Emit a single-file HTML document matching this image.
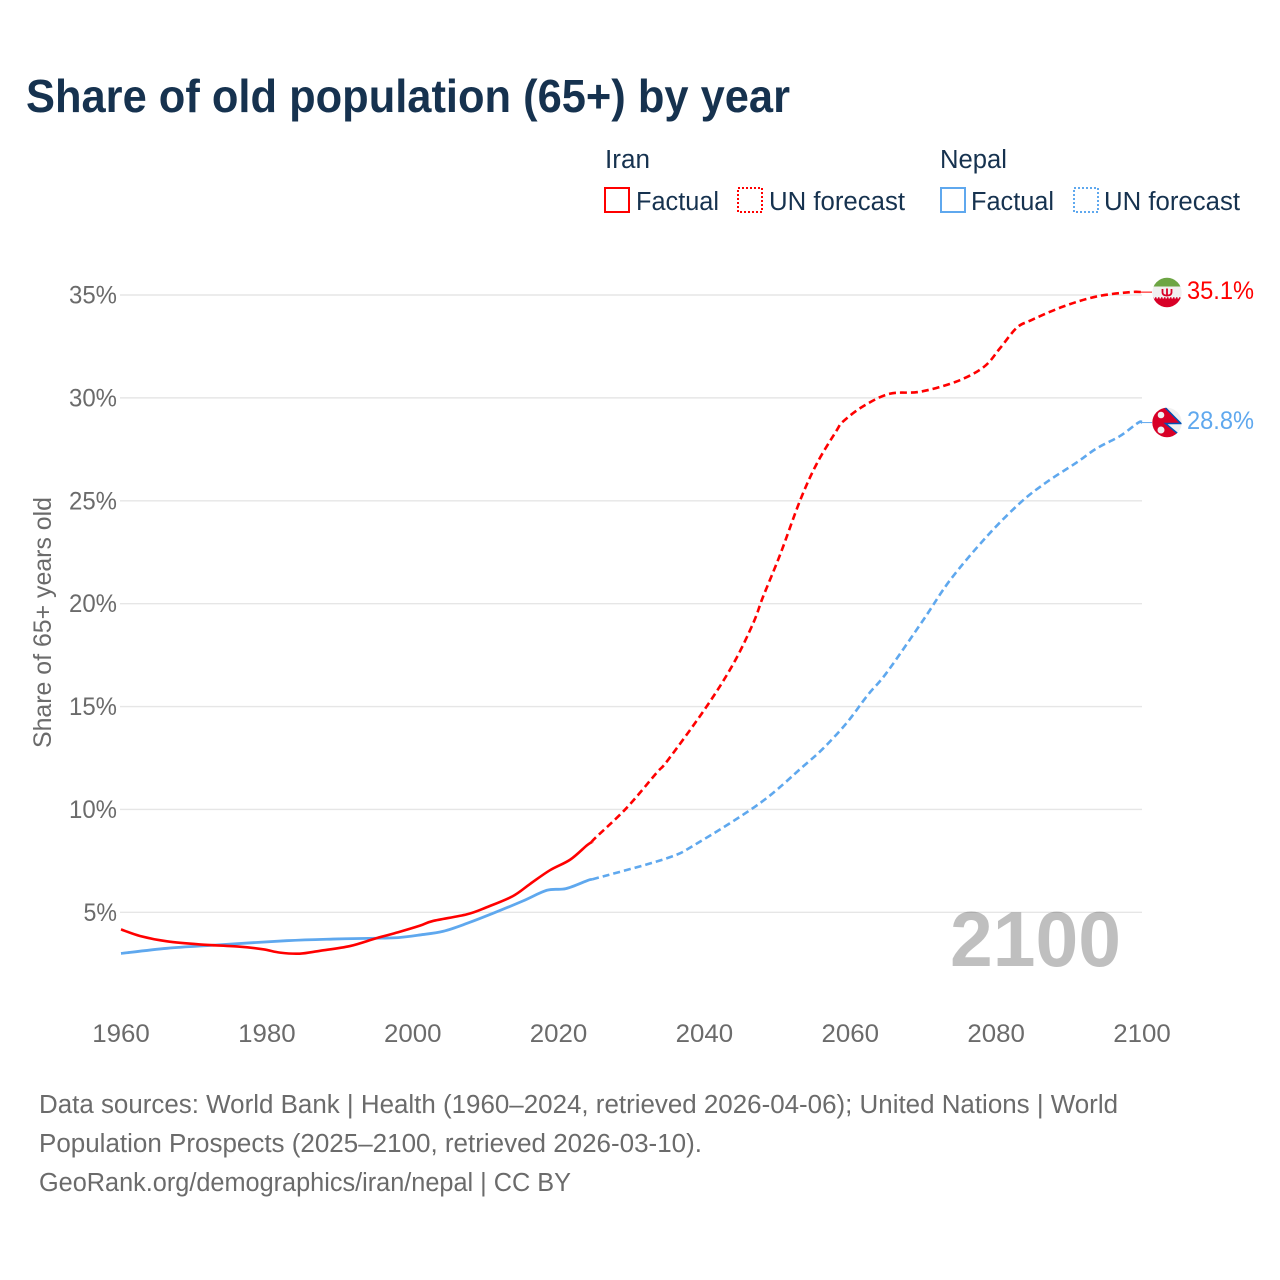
<!DOCTYPE html>
<html lang="en">
<head>
<meta charset="utf-8">
<title>Share of old population (65+) by year</title>
<style>
html,body{margin:0;padding:0;background:#fff;}
svg{display:block;font-family:"Liberation Sans",sans-serif;}
</style>
</head>
<body>
<svg id="chart" xmlns="http://www.w3.org/2000/svg" width="1280" height="1280" viewBox="0 0 1280 1280">
  <rect x="0" y="0" width="1280" height="1280" fill="#ffffff"/>
  <text x="26" y="112" font-size="46" font-weight="700" fill="#16324f" textLength="764" lengthAdjust="spacingAndGlyphs">Share of old population (65+) by year</text>

  <g font-size="25.5" fill="#16324f">
    <text x="605" y="168" textLength="45" lengthAdjust="spacingAndGlyphs">Iran</text>
    <rect x="605" y="188" width="24" height="24" fill="none" stroke="#ff0000" stroke-width="2"/>
    <text x="636" y="210" textLength="83" lengthAdjust="spacingAndGlyphs">Factual</text>
    <rect x="738" y="188" width="24" height="24" fill="none" stroke="#ff0000" stroke-width="2" stroke-dasharray="2 2"/>
    <text x="769" y="210" textLength="136" lengthAdjust="spacingAndGlyphs">UN forecast</text>
    <text x="940" y="168" textLength="67" lengthAdjust="spacingAndGlyphs">Nepal</text>
    <rect x="941" y="188" width="24" height="24" fill="none" stroke="#5fa8ee" stroke-width="2"/>
    <text x="971" y="210" textLength="83" lengthAdjust="spacingAndGlyphs">Factual</text>
    <rect x="1074" y="188" width="24" height="24" fill="none" stroke="#5fa8ee" stroke-width="2" stroke-dasharray="2 2"/>
    <text x="1104" y="210" textLength="136" lengthAdjust="spacingAndGlyphs">UN forecast</text>
  </g>

  <text transform="translate(51,748) rotate(-90)" font-size="25" fill="#6b6b6b" textLength="251" lengthAdjust="spacingAndGlyphs">Share of 65+ years old</text>

  <g id="grid"></g>
  <g id="yticks" font-size="25" fill="#6b6b6b"></g>
  <g id="xticks" font-size="25" fill="#6b6b6b"></g>

  <text x="950" y="966" font-size="78" font-weight="700" fill="#000000" fill-opacity="0.25" textLength="171" lengthAdjust="spacingAndGlyphs">2100</text>

  <g id="series"></g>

  <defs>
    <clipPath id="iran-clip"><circle cx="1167" cy="292.5" r="14.7"/></clipPath>
    <clipPath id="nepal-clip"><circle cx="1167" cy="422.5" r="14.7"/></clipPath>
  </defs>
  <g clip-path="url(#iran-clip)">
    <rect x="1152" y="277" width="30" height="31" fill="#f0f0f0"/>
    <rect x="1152" y="277" width="30" height="9.500" fill="#6da544"/>
    <rect x="1152" y="298.500" width="30" height="10" fill="#d80027"/>
    <line x1="1152" x2="1182" y1="298" y2="298" stroke="#d80027" stroke-width="1.500" stroke-dasharray="1.500 1.500"/>
    <path d="M1162.500 289v3.500q0 3 4.500 3t4.500-3V289M1167 288.500v8" fill="none" stroke="#d80027" stroke-width="1.800"/>
  </g>
  <g clip-path="url(#nepal-clip)">
    <rect x="1152" y="407" width="30" height="31" fill="#f0f0f0"/>
    <path d="M1150 405H1164L1181 423.500H1165.500L1180 436V440H1150Z" fill="#d80027"/>
    <path d="M1164 406.500L1181 423.500H1165.500L1180 435.500" fill="none" stroke="#0052b4" stroke-width="1.500"/>
    <circle cx="1161" cy="415" r="3.300" fill="#f0f0f0"/>
    <circle cx="1161" cy="430" r="3.500" fill="#f0f0f0"/>
  </g>
  <text x="1187" y="299" font-size="25" fill="#ff0000" textLength="67" lengthAdjust="spacingAndGlyphs">35.1%</text>
  <text x="1187" y="429" font-size="25" fill="#5fa8ee" textLength="67" lengthAdjust="spacingAndGlyphs">28.8%</text>

  <g font-size="25.5" fill="#6b6b6b">
    <text x="39" y="1113" textLength="1079" lengthAdjust="spacingAndGlyphs">Data sources: World Bank | Health (1960–2024, retrieved 2026-04-06); United Nations | World</text>
    <text x="39" y="1152" textLength="663" lengthAdjust="spacingAndGlyphs">Population Prospects (2025–2100, retrieved 2026-03-10).</text>
    <text x="39" y="1191" textLength="532" lengthAdjust="spacingAndGlyphs">GeoRank.org/demographics/iran/nepal | CC BY</text>
  </g>
</svg>
<script>
const xTickYears = [1960, 1980, 2000, 2020, 2040, 2060, 2080, 2100];
const yTickValues = [5, 10, 15, 20, 25, 30, 35];

const iranFactualYears = [1960, 1962.6, 1966.3, 1970.8, 1976.3, 1979.5, 1981.8, 1984.5, 1987.3, 1991.4, 1995, 1998, 2001, 2002.8, 2007.4, 2010.1, 2013.7, 2016.1, 2018.8, 2021.6, 2023.9, 2024.6];
const iranFactualValues = [4.17, 3.85, 3.59, 3.44, 3.33, 3.2, 3.04, 2.99, 3.13, 3.36, 3.74, 4.03, 4.35, 4.58, 4.9, 5.24, 5.78, 6.38, 7.04, 7.56, 8.26, 8.42];

const iranForecastYears = [2024.6, 2025, 2029.3, 2033.4, 2035, 2040.3, 2044, 2046.7, 2048, 2050.4, 2053.1, 2055.4, 2058.1, 2059, 2061.8, 2065.4, 2069.6, 2074.6, 2078.3, 2080.5, 2082.8, 2084.7, 2089.2, 2093.8, 2098.4, 2100];
const iranForecastValues = [8.42, 8.6, 10.06, 11.76, 12.4, 15.0, 17.1, 19.06, 20.3, 22.4, 25.0, 26.8, 28.4, 28.85, 29.6, 30.2, 30.3, 30.8, 31.5, 32.4, 33.4, 33.76, 34.44, 34.93, 35.14, 35.14];

const nepalFactualYears = [1960, 1966.3, 1973.1, 1982.7, 1989.1, 1995, 1998, 2001, 2004.2, 2007.5, 2011, 2015.1, 2018.4, 2021, 2024, 2024.6];
const nepalFactualValues = [3.0, 3.25, 3.41, 3.62, 3.7, 3.74, 3.77, 3.9, 4.08, 4.47, 4.95, 5.55, 6.07, 6.15, 6.55, 6.6];

const nepalForecastYears = [2024.6, 2034.8, 2039, 2047.6, 2053.5, 2056.3, 2059.5, 2062.4, 2065, 2070, 2073.7, 2078.7, 2083.3, 2086.9, 2091, 2093.8, 2097, 2099.5, 2100];
const nepalForecastValues = [6.6, 7.62, 8.35, 10.3, 12.08, 12.97, 14.2, 15.56, 16.65, 19.2, 21.15, 23.26, 24.9, 25.9, 26.85, 27.55, 28.15, 28.8, 28.8];

const SVG_NS = 'http://www.w3.org/2000/svg';
function xScale(year) { return 121 + (year - 1960) * (1142 - 121) / 140; }
function yScale(value) { return 912.3 - (value - 5) * (912.3 - 295) / 30; }

function smoothPath(years, values) {
  const pts = years.map(function (yr, i) { return [xScale(yr), yScale(values[i])]; });
  let d = 'M' + pts[0][0].toFixed(2) + ' ' + pts[0][1].toFixed(2);
  for (let i = 0; i < pts.length - 1; i++) {
    const p0 = pts[Math.max(i - 1, 0)];
    const p1 = pts[i];
    const p2 = pts[i + 1];
    const p3 = pts[Math.min(i + 2, pts.length - 1)];
    const c1x = p1[0] + (p2[0] - p0[0]) / 6;
    const c1y = p1[1] + (p2[1] - p0[1]) / 6;
    const c2x = p2[0] - (p3[0] - p1[0]) / 6;
    const c2y = p2[1] - (p3[1] - p1[1]) / 6;
    d += 'C' + c1x.toFixed(2) + ' ' + c1y.toFixed(2) + ' ' + c2x.toFixed(2) + ' ' + c2y.toFixed(2) + ' ' + p2[0].toFixed(2) + ' ' + p2[1].toFixed(2);
  }
  return d;
}

const gridGroup = document.getElementById('grid');
const yTickGroup = document.getElementById('yticks');
const xTickGroup = document.getElementById('xticks');
const seriesGroup = document.getElementById('series');

yTickValues.forEach(function (value) {
  const line = document.createElementNS(SVG_NS, 'line');
  
  
  line.setAttribute('x1', 120);
  line.setAttribute('x2', 1142);
  line.setAttribute('y1', yScale(value));
  line.setAttribute('y2', yScale(value));
  line.setAttribute('stroke', '#e6e6e6');
  line.setAttribute('stroke-width', '1.4');
  gridGroup.appendChild(line);

  const label = document.createElementNS(SVG_NS, 'text');
  const labelText = value + '%';
  
  
  label.setAttribute('x', 117);
  label.setAttribute('y', yScale(value) + 8.5);
  label.setAttribute('text-anchor', 'end');
  label.setAttribute('textLength', (labelText.length - 1) * 14.5 + 19);
  label.setAttribute('lengthAdjust', 'spacingAndGlyphs');
  label.textContent = labelText;
  yTickGroup.appendChild(label);
});

xTickYears.forEach(function (year) {
  const label = document.createElementNS(SVG_NS, 'text');
  
  
  label.setAttribute('x', xScale(year));
  label.setAttribute('y', 1042);
  label.setAttribute('text-anchor', 'middle');
  label.setAttribute('textLength', 57.5);
  label.setAttribute('lengthAdjust', 'spacingAndGlyphs');
  label.textContent = String(year);
  xTickGroup.appendChild(label);
});

function drawLine(name, years, values, color, dash, width) {
  const path = document.createElementNS(SVG_NS, 'path');
  
  
  path.setAttribute('d', smoothPath(years, values));
  path.setAttribute('fill', 'none');
  path.setAttribute('stroke', color);
  path.setAttribute('stroke-width', width);
  path.setAttribute('stroke-linejoin', 'round');
  if (dash) { path.setAttribute('stroke-dasharray', dash); }
  seriesGroup.appendChild(path);
}

function drawConnector(name, years, values, color) {
  const last = values[values.length - 1];
  const lastYear = years[years.length - 1];
  const line = document.createElementNS(SVG_NS, 'line');
  
  
  line.setAttribute('x1', xScale(lastYear) - 4);
  line.setAttribute('x2', xScale(lastYear) + 10);
  line.setAttribute('y1', yScale(last));
  line.setAttribute('y2', yScale(last));
  line.setAttribute('stroke', color);
  line.setAttribute('stroke-width', '1');
  seriesGroup.appendChild(line);
}

drawLine('nepal-factual-line', nepalFactualYears, nepalFactualValues, '#5fa8ee', '', 2.8);
drawLine('nepal-forecast-line', nepalForecastYears, nepalForecastValues, '#5fa8ee', '7 4', 2.6);
drawConnector('nepal-end-connector', nepalForecastYears, nepalForecastValues, '#5fa8ee');
drawLine('iran-factual-line', iranFactualYears, iranFactualValues, '#ff0000', '', 2.6);
drawLine('iran-forecast-line', iranForecastYears, iranForecastValues, '#ff0000', '7 4', 2.6);
drawConnector('iran-end-connector', iranForecastYears, iranForecastValues, '#ff0000');
</script>
</body>
</html>
